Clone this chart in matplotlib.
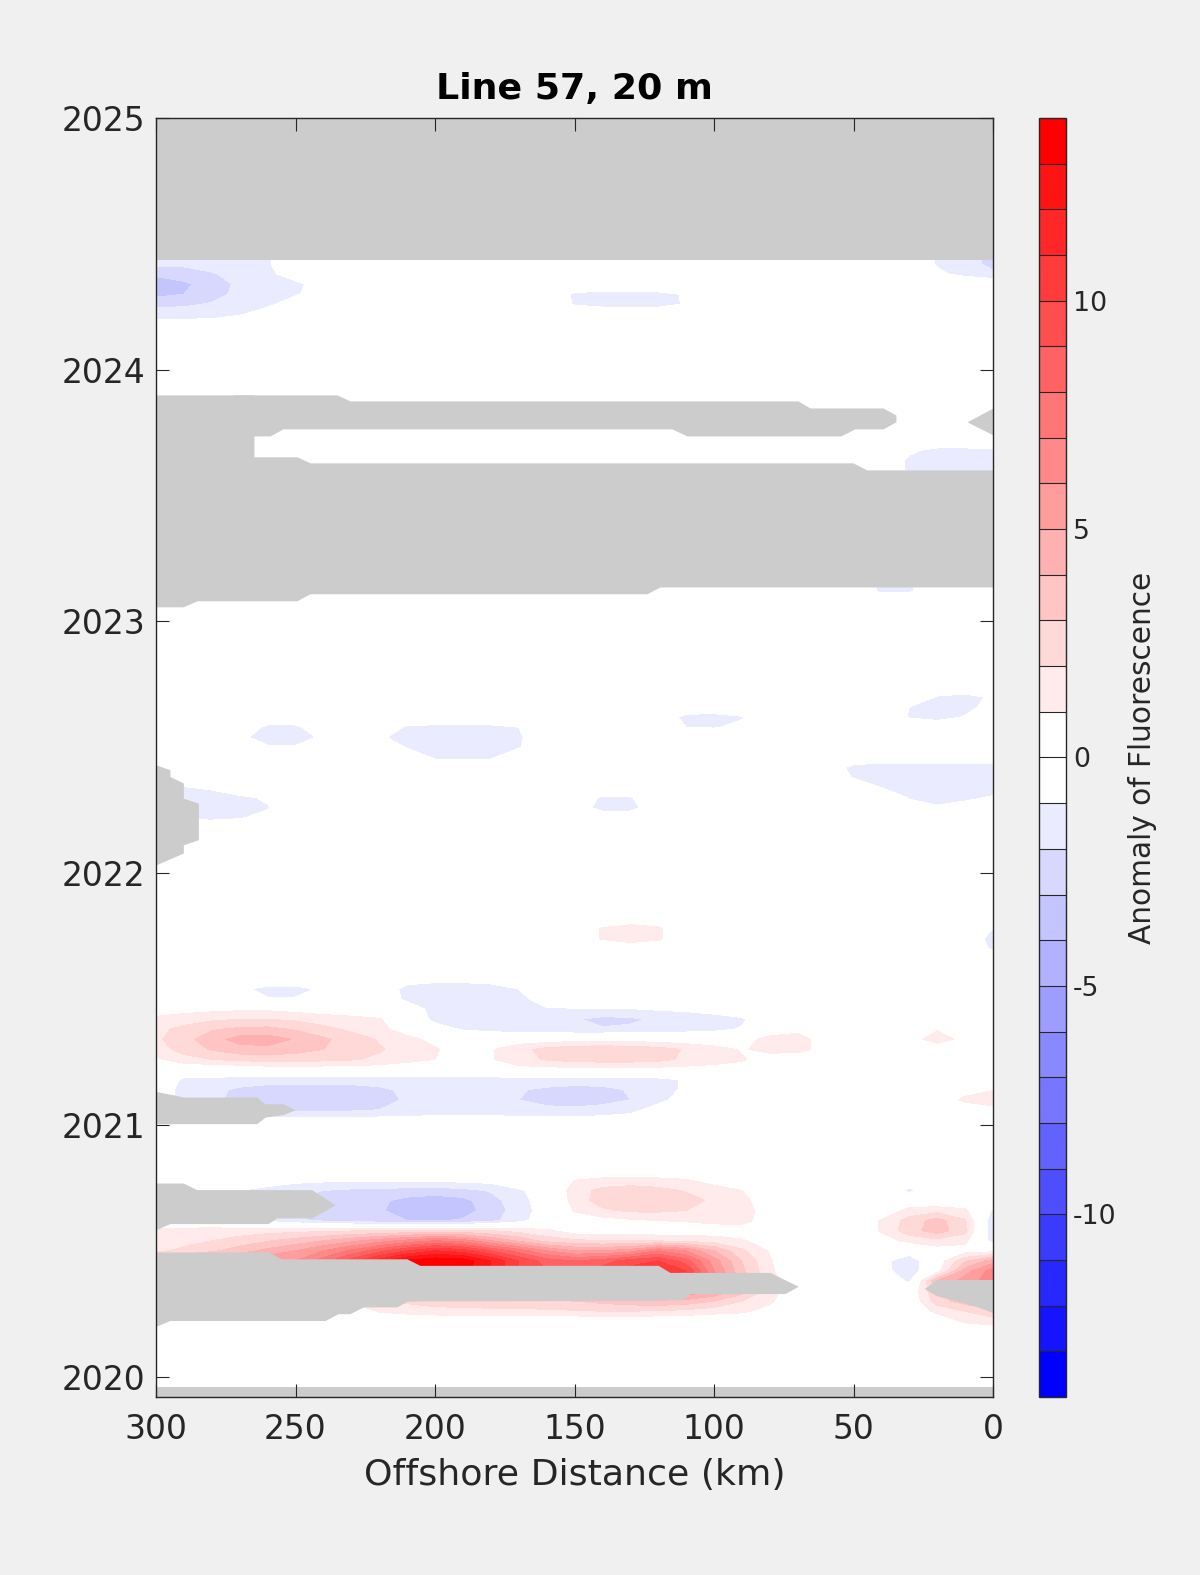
import numpy as np
import matplotlib
matplotlib.use('Agg')
import matplotlib.pyplot as plt

plt.rcParams['font.family'] = ['DejaVu Sans']
plt.rcParams['axes.unicode_minus'] = False

# offshore distance grid (km) and anomaly rows
# each entry: (year, first km, values going 10 km steps towards the coast)
km = np.arange(0, 301, 10)

anom_2020 = [
    (2020.22, 10, [1.2, 1.6]),
    (2020.26, 220, [1.1, 1.4, 1.6, 1.7, 1.8, 1.8, 1.8, 1.9, 2.0, 2.0, 1.9, 1.7, 1.4, 1.2, 0.6]),
    (2020.26, 20, [1.3, 2.0, 2.6]),
    (2020.30, 230, [1.3, 1.8, 2.2, 2.5, 2.5, 2.5, 2.6, 2.8, 3.0, 3.3, 3.6, 3.8, 3.6, 3.0, 2.0, 1.2]),
    (2020.30, 20, [2.5, 3.5, 4.0]),
    (2020.34, 300, [3.0, 3.5, 4.0, 4.5, 5.0, 5.5, 6.0, 6.5, 7.0, 7.5, 7.5, 7.0, 6.0, 5.0, 4.5, 4.5,
                    5.0, 5.5, 6.0, 6.0, 5.0, 3.5, 1.5, 0.0]),
    (2020.34, 20, [3.0, 4.5, 5.5]),
    (2020.38, 300, [4.5, 5.0, 5.5, 6.0, 6.5, 7.0, 8.0, 9.0, 10.0, 11.0, 12.0, 11.0, 9.0, 7.5, 7.0, 7.0,
                    7.5, 8.5, 9.5, 9.0, 6.5, 3.8, 1.5, 0.0]),
    (2020.38, 30, [-1.2, 4.0, 5.5, 6.5]),
    (2020.42, 300, [5.0, 5.5, 6.0, 6.5, 7.0, 7.5, 9.0, 11.0, 12.5, 13.5, 13.8, 13.5, 12.0, 10.0, 9.0, 9.0,
                    9.5, 10.5, 10.5, 10.0, 6.0, 3.2, 1.2, 0.0]),
    (2020.42, 40, [-0.5, -1.8, 0.5, 4.5, 6.5]),
    (2020.46, 300, [4.0, 4.5, 5.0, 5.5, 5.8, 6.0, 7.5, 9.5, 11.5, 13.2, 13.8, 13.6, 12.0, 10.0, 8.5, 8.0,
                    8.5, 9.5, 10.0, 8.5, 5.5, 3.0, 1.1, 0.0]),
    (2020.46, 40, [-0.6, -1.8, 0.3, 2.8, 4.5]),
    (2020.50, 300, [1.8, 2.2, 2.8, 3.5, 4.3, 5.0, 6.0, 7.2, 8.6, 10.0, 11.0, 10.5, 9.0, 7.5, 6.0, 5.0,
                    5.0, 5.5, 7.0, 6.0, 4.0, 2.2, 0.9, 0.0]),
    (2020.50, 30, [-0.4, 0.4, 0.5, 0.6]),
    (2020.54, 300, [1.5, 1.7, 2.0, 2.4, 2.9, 3.4, 4.0, 4.7, 5.5, 6.3, 7.0, 6.5, 5.0, 3.8, 2.6, 2.2,
                    2.0, 2.0, 1.9, 1.7, 1.5, 1.1, 0.5]),
    (2020.54, 40, [0.5, 1.3, 1.7, 1.3, -1.5]),
    (2020.58, 300, [1.2, 1.3, 1.4, 1.5, 1.6, 1.7, 1.8, 1.9, 2.0, 2.1, 2.2, 2.2, 2.0, 1.6, 1.2, 0.4,
                    0.3, 0.3, 0.3, 0.3, 0.4, 0.5, 0.2]),
    (2020.58, 40, [1.1, 2.6, 3.5, 2.3, -1.8]),
    (2020.62, 270, [-0.8, -1.3, -1.8, -2.2, -2.5, -2.7, -3.0, -3.1, -2.9, -2.3, -1.4, -0.3,
                    0.3, 0.6, 0.8, 1.0, 1.1, 1.3, 1.3, 0.5]),
    (2020.62, 40, [1.1, 2.4, 3.4, 2.1, -1.8]),
    (2020.66, 270, [-1.0, -1.5, -2.1, -2.5, -2.7, -2.9, -3.4, -3.6, -3.4, -2.6, -1.5, -0.5,
                    1.1, 1.8, 2.2, 2.2, 2.0, 1.7, 1.4, 0.5]),
    (2020.66, 30, [1.4, 1.6, 1.2, -1.2]),
    (2020.70, 280, [-0.5, -1.1, -1.5, -2.1, -2.4, -2.6, -2.8, -3.3, -3.5, -3.3, -2.4, -1.4, -0.4,
                    1.4, 2.5, 2.9, 2.8, 2.4, 1.8, 1.3, 0.3]),
    (2020.74, 280, [-0.5, -1.0, -1.3, -1.7, -2.0, -2.2, -2.3, -2.4, -2.5, -2.3, -1.9, -1.2, -0.3,
                    1.5, 2.3, 2.5, 2.3, 1.9, 1.4, 1.0]),
    (2020.74, 30, [-1.3]),
    (2020.78, 260, [-0.5, -0.7, -0.8, -0.8, -0.8, -0.8, -0.8, -0.7, -0.6, 0.0, 0.0,
                    1.0, 1.3, 1.4, 1.3, 1.1, 0.6]),
]

anom_2021 = [
    (2021.02, 290, [-0.6, -0.6, -0.6, -0.6, -0.6, -0.6, -0.6, -0.6, -0.6, -0.6, -0.6, -0.6,
                    -0.6, -0.6, -0.6, -0.6, -0.5, -0.3]),
    (2021.06, 290, [-1.5, -1.8, -2.0, -2.2, -2.2, -2.3, -2.2, -2.0, -1.7, -1.6, -1.6, -1.6,
                    -1.7, -1.8, -1.8, -1.6, -1.3, -0.6]),
    (2021.06, 0, [0.5]),
    (2021.10, 290, [-1.6, -1.8, -2.3, -2.6, -2.7, -2.7, -2.6, -2.3, -1.9, -1.7, -1.7, -1.8,
                    -2.0, -2.3, -2.5, -2.4, -2.0, -1.3, -0.5]),
    (2021.10, 10, [1.3, 1.8]),
    (2021.14, 290, [-1.5, -1.7, -2.2, -2.5, -2.6, -2.6, -2.5, -2.2, -1.8, -1.6, -1.6, -1.7,
                    -1.9, -2.2, -2.4, -2.3, -1.9, -1.5, -0.8]),
    (2021.14, 10, [0.4, 0.9]),
    (2021.18, 290, [-1.2, -1.3, -1.4, -1.5, -1.5, -1.5, -1.5, -1.5, -1.4, -1.4, -1.4, -1.4,
                    -1.4, -1.4, -1.4, -1.4, -1.4, -1.3, -0.9]),
    (2021.22, 260, [0.3, 0.3, 0.3, 0.3, 0.3, 0.0, 0.0, 0.0, 0.0, 0.6, 0.6, 0.6, 0.6, 0.6,
                    0.6, 0.6, 0.6, 0.6]),
    (2021.26, 300, [0.8, 1.6, 2.0, 2.3, 2.4, 2.4, 2.3, 2.1, 1.8, 1.4, 1.0, 0.6, 0.9, 1.6,
                    2.1, 2.4, 2.5, 2.5, 2.3, 1.8, 1.4, 1.1, 0.5]),
    (2021.30, 300, [1.5, 2.4, 3.1, 3.6, 3.7, 3.4, 3.0, 2.6, 2.1, 1.6, 1.1, 0.5, 0.9, 1.7,
                    2.3, 2.7, 2.8, 2.7, 2.4, 1.9, 1.4, 0.9, 1.3, 1.5, 0.4]),
    (2021.34, 300, [1.8, 2.6, 3.6, 4.4, 4.5, 3.9, 3.2, 2.5, 1.9, 1.3, 0.7, 0.2, 0.2, 0.3,
                    0.4, 0.5, 0.5, 0.5, 0.4, 0.3, 0.2, 0.5, 1.4, 1.6, 0.3]),
    (2021.34, 30, [0.4, 1.6, 0.6]),
    (2021.38, 300, [1.7, 2.3, 2.9, 3.2, 3.3, 2.9, 2.3, 1.8, 1.3, 0.5, -0.5, -1.1, -1.4, -1.6,
                    -1.7, -1.9, -1.9, -1.8, -1.7, -1.5, -1.3, -0.9, 0.2, 0.6]),
    (2021.38, 20, [0.9, 0.4]),
    (2021.42, 300, [1.2, 1.5, 1.8, 2.0, 2.0, 1.8, 1.5, 1.3, 1.1, 0.0, -1.3, -1.7, -1.6, -1.5,
                    -1.6, -1.9, -2.3, -2.2, -1.8, -1.6, -1.4, -1.2]),
    (2021.46, 300, [0.5, 0.6, 0.7, 0.8, 0.8, 0.6, 0.4, 0.3, 0.0, -0.5, -1.3, -1.8, -1.6, -1.4,
                    -1.1, -1.1, -1.1, -1.05, -0.9, -0.8, -0.6]),
    (2021.50, 260, [-0.9, -0.9, 0.0, 0.0, -0.3, -1.2, -1.6, -1.7, -1.6, -1.3, -0.5]),
    (2021.54, 270, [-0.7, -1.4, -1.4, -0.8, 0.0, -0.3, -1.3, -1.5, -1.5, -1.4, -1.0]),
    (2021.58, 210, [-0.6, -0.7, -0.7, -0.6]),
    (2021.70, 0, [-1.2]),
    (2021.74, 140, [1.1, 1.6, 1.2]),
    (2021.74, 0, [-1.5]),
    (2021.78, 140, [1.1, 1.6, 1.2]),
    (2021.78, 0, [-1.0]),
]

anom_2022 = [
    (2022.22, 290, [-1.2, -1.3, -1.1, -0.6]),
    (2022.26, 290, [-1.6, -1.7, -1.5, -1.1]),
    (2022.26, 140, [-1.6, -1.5]),
    (2022.26, 30, [-0.5, -0.9, -0.6]),
    (2022.30, 290, [-1.6, -1.6, -1.3, -0.8]),
    (2022.30, 140, [-1.2, -1.1]),
    (2022.30, 30, [-1.1, -1.3, -1.2, -0.9]),
    (2022.34, 290, [-1.1, -0.8]),
    (2022.34, 40, [-1.0, -1.6, -1.8, -1.7, -1.4]),
    (2022.38, 50, [-1.1, -1.6, -1.8, -1.8, -1.8, -1.8]),
    (2022.42, 50, [-1.4, -1.7, -1.7, -1.6, -1.6, -1.6]),
    (2022.46, 200, [-1.2, -1.3, -1.2]),
    (2022.50, 260, [-0.9, -0.9, 0.0, 0.0, 0.0, -1.1, -1.5, -1.6, -1.6, -1.1]),
    (2022.54, 270, [-0.8, -1.4, -1.5, -0.8, 0.0, -0.8, -1.5, -1.6, -1.7, -1.7, -1.2]),
    (2022.58, 260, [-1.3, -1.3, 0.0, 0.0, 0.0, -1.2, -1.3, -1.3, -1.3, -1.0]),
    (2022.58, 110, [-1.0, -1.1, -0.7]),
    (2022.62, 110, [-1.4, -1.5, -1.1]),
    (2022.62, 30, [-1.1, -1.5, -0.9]),
    (2022.66, 30, [-1.0, -1.6, -1.5, -0.4]),
    (2022.70, 20, [-1.1, -1.4, -0.8]),
]

anom_2023 = [
    (2023.12, 40, [-1.2, -1.2]),
    (2023.16, 40, [-1.2, -1.2]),
    (2023.60, 30, [-1.2, -1.5, -1.5, -1.5]),
    (2023.64, 30, [-1.2, -1.5, -1.5, -1.5]),
    (2023.68, 30, [-0.8, -1.3, -1.3, -1.2]),
]

anom_2024 = [
    (2024.18, 300, [-0.6, -0.6, -0.6]),
    (2024.22, 300, [-1.4, -1.4, -1.3, -1.1, -0.5]),
    (2024.26, 300, [-2.3, -2.2, -1.9, -1.5, -1.2, -0.5]),
    (2024.26, 150, [-1.1, -1.4, -1.5, -1.4, -0.9]),
    (2024.30, 300, [-3.3, -3.0, -2.4, -1.7, -1.4, -1.1, -0.5]),
    (2024.30, 150, [-1.2, -1.4, -1.4, -1.3, -0.9]),
    (2024.34, 300, [-3.6, -3.2, -2.5, -1.8, -1.5, -1.2, -0.6]),
    (2024.38, 300, [-2.8, -2.5, -2.1, -1.6, -1.2, -0.6]),
    (2024.38, 20, [-0.8, -1.3, -1.8]),
    (2024.42, 300, [-1.8, -1.8, -1.6, -1.4, -1.1, -0.3]),
    (2024.42, 20, [-1.1, -1.6, -2.3]),
    (2024.46, 300, [-1.8, -1.8, -1.6, -1.4, -1.1, -0.3]),
    (2024.46, 20, [-1.1, -1.6, -2.3]),
]

# times with no anomaly anywhere along the line
zero_rows = [2019.92, 2020.10, 2020.18, 2020.82, 2020.90, 2021.62, 2021.66, 2021.82,
             2021.90, 2022.10, 2022.18, 2022.74, 2022.80, 2023.04, 2023.08, 2023.20,
             2023.56, 2023.72, 2023.80, 2024.10, 2025.00]

# missing data (grey): x nodes with lower / upper year
gap_2024_km = [300, 0]
gap_2024_lo = [2024.436, 2024.436]
gap_2024_hi = [2025.0, 2025.0]

gap_2023a_km = [300, 290.3, 285.3, 264.9, 264.9, 249.5, 244.8, 124.0, 119.4, 50.2, 45.2, 0]
gap_2023a_lo = [2023.058, 2023.058, 2023.082, 2023.082, 2023.082, 2023.082, 2023.110, 2023.110,
                2023.137, 2023.137, 2023.137, 2023.137]
gap_2023a_hi = [2023.900, 2023.900, 2023.900, 2023.900, 2023.654, 2023.654, 2023.630, 2023.630,
                2023.630, 2023.630, 2023.602, 2023.602]

gap_2023b_km = [272.0, 264.9, 259.1, 254.5, 235.1, 230.5, 115.1, 109.7, 69.9, 65.6, 54.5, 49.5,
                39.4, 34.8]
gap_2023b_lo = [2023.737, 2023.737, 2023.737, 2023.765, 2023.765, 2023.765, 2023.765, 2023.737,
                2023.737, 2023.737, 2023.737, 2023.765, 2023.765, 2023.793]
gap_2023b_hi = [2023.900, 2023.900, 2023.900, 2023.900, 2023.900, 2023.876, 2023.876, 2023.876,
                2023.876, 2023.848, 2023.848, 2023.848, 2023.848, 2023.820]

gap_2023c_km = [9.3, 0]
gap_2023c_lo = [2023.793, 2023.741]
gap_2023c_hi = [2023.793, 2023.848]

gap_2022_yr = [2022.033, 2022.080, 2022.113, 2022.133, 2022.278, 2022.298, 2022.358, 2022.384,
               2022.411, 2022.430]
gap_2022_km = [300, 290.2, 290.2, 284.8, 284.8, 290.2, 290.2, 295.0, 295.0, 300]

gap_2021_km = [300, 290.2, 263.9, 260.9, 254.4, 250.2]
gap_2021_lo = [2021.005, 2021.005, 2021.005, 2021.031, 2021.041, 2021.060]
gap_2021_hi = [2021.133, 2021.111, 2021.111, 2021.084, 2021.084, 2021.060]

gap_2020c_km = [300, 295, 290.2, 285.4, 259.8, 256.8, 244.2, 235.8]
gap_2020c_lo = [2020.584, 2020.608, 2020.608, 2020.608, 2020.608, 2020.630, 2020.630, 2020.683]
gap_2020c_hi = [2020.769, 2020.769, 2020.769, 2020.743, 2020.743, 2020.743, 2020.743, 2020.683]

gap_2020a_km = [300, 295, 259.7, 255.0, 239.4, 234.7, 230.5, 225.7, 213.7, 210.1, 205.4, 120.0,
                115.8, 111.0, 108.6, 79.9, 74.6, 69.8]
gap_2020a_lo = [2020.200, 2020.223, 2020.223, 2020.223, 2020.223, 2020.250, 2020.250, 2020.277,
                2020.277, 2020.299, 2020.301, 2020.303, 2020.305, 2020.306, 2020.330, 2020.330,
                2020.330, 2020.359]
gap_2020a_hi = [2020.495, 2020.495, 2020.495, 2020.468, 2020.468, 2020.468, 2020.468, 2020.468,
                2020.468, 2020.468, 2020.442, 2020.442, 2020.414, 2020.414, 2020.414, 2020.414,
                2020.385, 2020.359]

gap_2020b_km = [24.7, 20.2, 14.2, 4.7, 0]
gap_2020b_lo = [2020.350, 2020.321, 2020.305, 2020.274, 2020.254]
gap_2020b_hi = [2020.350, 2020.386, 2020.386, 2020.386, 2020.386]

gap_2019_km = [300, 0]
gap_2019_lo = [2019.90, 2019.90]
gap_2019_hi = [2019.959, 2019.959]

# build the anomaly grid
anomaly_rows = anom_2020 + anom_2021 + anom_2022 + anom_2023 + anom_2024
years = sorted(set(zero_rows) | {r[0] for r in anomaly_rows})
Z = np.zeros((len(years), len(km)))
for yr, start, vals in anomaly_rows:
    i = years.index(yr)
    for n, v in enumerate(vals):
        Z[i, (start - 10 * n) // 10] = v

levels = np.arange(-14, 15, 1)
blues = [(i / 13, i / 13, 1.0) for i in range(14)]
reds = [(1.0, 1 - j / 13, 1 - j / 13) for j in range(14)]
band_colors = blues + reds

ink = '#262626'
grey = '#cccccc'

fig = plt.figure(figsize=(12, 15.75), dpi=100, facecolor='#f0f0f0')
ax = fig.add_axes([0.13, 0.1130, 0.6975, 0.8121])
ax.set_axisbelow(False)

cf = ax.contourf(km, years, Z, levels=levels, colors=band_colors)

for gk, glo, ghi in [(gap_2024_km, gap_2024_lo, gap_2024_hi),
                     (gap_2023a_km, gap_2023a_lo, gap_2023a_hi),
                     (gap_2023b_km, gap_2023b_lo, gap_2023b_hi),
                     (gap_2023c_km, gap_2023c_lo, gap_2023c_hi),
                     (gap_2021_km, gap_2021_lo, gap_2021_hi),
                     (gap_2020c_km, gap_2020c_lo, gap_2020c_hi),
                     (gap_2020a_km, gap_2020a_lo, gap_2020a_hi),
                     (gap_2020b_km, gap_2020b_lo, gap_2020b_hi),
                     (gap_2019_km, gap_2019_lo, gap_2019_hi)]:
    ax.fill_between(gk, glo, ghi, color=grey, lw=0)
ax.fill_betweenx(gap_2022_yr, 300, gap_2022_km, color=grey, lw=0)

ax.set_xlim(300, 0)
ax.set_ylim(2019.919, 2025.0)
ax.set_xticks([300, 250, 200, 150, 100, 50, 0])
ax.set_yticks([2020, 2021, 2022, 2023, 2024, 2025])
ax.set_yticklabels(['2020', '2021', '2022', '2023', '2024', '2025'])
ax.tick_params(top=True, right=True, direction='in', length=9.5, width=0.8,
               colors=ink, labelsize=23.8, pad=8)
ax.tick_params(axis='x', pad=11.5)
for s in ax.spines.values():
    s.set_color(ink)
    s.set_linewidth(1.0)

ax.set_xlabel('Offshore Distance (km)', fontsize=26.2, color=ink, labelpad=9)
ax.set_title('Line 57, 20 m', fontsize=26.2, fontweight='bold', pad=13.5)

cax = fig.add_axes([0.8658, 0.1130, 0.0225, 0.8121])
cb = fig.colorbar(cf, cax=cax, ticks=[-10, -5, 0, 5, 10], drawedges=True)
cb.dividers.set_color(ink)
cb.dividers.set_linewidth(0.8)
cb.outline.set_edgecolor(ink)
cb.outline.set_linewidth(1.0)
cb.ax.tick_params(length=0, labelsize=19.3, colors=ink, pad=5)
cb.set_label('Anomaly of Fluorescence', fontsize=21.3, color=ink, labelpad=8)

fig.savefig('out.png', dpi=100, facecolor=fig.get_facecolor())
